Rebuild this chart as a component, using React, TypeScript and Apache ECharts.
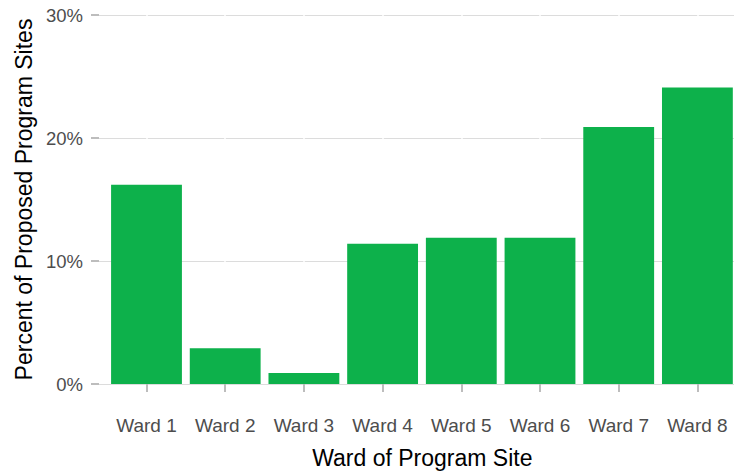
import React, { useEffect, useRef } from "react";
import * as echarts from "echarts";

const categories = ["Ward 1", "Ward 2", "Ward 3", "Ward 4", "Ward 5", "Ward 6", "Ward 7", "Ward 8"];
const percentValues = [16.2, 2.9, 0.9, 11.4, 11.9, 11.9, 20.9, 24.1];
const yTicks = { min: 0, max: 30, interval: 10 };
const xTitle = "Ward of Program Site";
const yTitle = "Percent of Proposed Program Sites";

export default function App() {
  const ref = useRef<HTMLDivElement>(null);
  useEffect(() => {
    if (!ref.current) return;
    const chart = echarts.init(ref.current, undefined, { renderer: "svg" });
    const font = "Liberation Sans, Arial, sans-serif";
    chart.setOption({
      animation: false,
      backgroundColor: "#ffffff",
      grid: [
        { left: 107.15, top: 15, width: 629.6, bottom: 88, containLabel: false, outerBoundsMode: "none" },
        { left: 99, top: 15, right: 0, bottom: 88, containLabel: false, outerBoundsMode: "none" },
      ],
      xAxis: [
        {
          type: "category",
          gridIndex: 0,
          data: categories,
          offset: 18,
          axisLine: { show: false },
          axisTick: { show: true, alignWithLabel: true, length: 8, lineStyle: { color: "#bdbdbd", width: 2 } },
          axisLabel: { margin: 14, fontSize: 19, color: "#4d4d4d", fontFamily: font, interval: 0 },
          splitLine: { show: false },
        },
        { type: "value", gridIndex: 1, show: false, min: 0, max: 1 },
      ],
      yAxis: [
        { type: "value", gridIndex: 0, show: false, min: yTicks.min, max: yTicks.max, interval: yTicks.interval },
        {
          type: "value",
          gridIndex: 1,
          min: yTicks.min,
          max: yTicks.max,
          interval: yTicks.interval,
          axisLine: { show: false },
          axisTick: { show: true, length: 8, lineStyle: { color: "#bdbdbd", width: 2 } },
          axisLabel: { margin: 16, fontSize: 18.5, color: "#4d4d4d", fontFamily: font, formatter: "{value}%" },
          splitLine: { show: true, lineStyle: { color: "#dcdcdc", width: 1.2 } },
        },
      ],
      series: [
        {
          type: "bar",
          xAxisIndex: 0,
          yAxisIndex: 0,
          data: percentValues,
          barWidth: "90%",
          z: 2,
          itemStyle: { color: "#0db14b" },
          markLine: {
            z: 1,
            silent: true,
            symbol: ["none", "none"],
            label: { show: false },
            lineStyle: { color: "#ffffff", width: 1.5, type: "solid" },
            data: categories.map((c) => ({ xAxis: c })),
          },
        },
      ],
      graphic: [
        {
          type: "text",
          x: 422.3,
          y: 446,
          style: { text: xTitle, fontSize: 23, fontFamily: font, fill: "#000000", align: "center", verticalAlign: "top", lineHeight: 23 },
        },
        {
          type: "text",
          x: 23.5,
          y: 199.5,
          rotation: Math.PI / 2,
          style: { text: yTitle, fontSize: 23, fontFamily: font, fill: "#000000", align: "center", verticalAlign: "middle" },
        },
      ],
    });
    return () => chart.dispose();
  }, []);
  return <div ref={ref} style={{ width: 734, height: 472, position: "fixed", left: 0, top: 0 }} />;
}
